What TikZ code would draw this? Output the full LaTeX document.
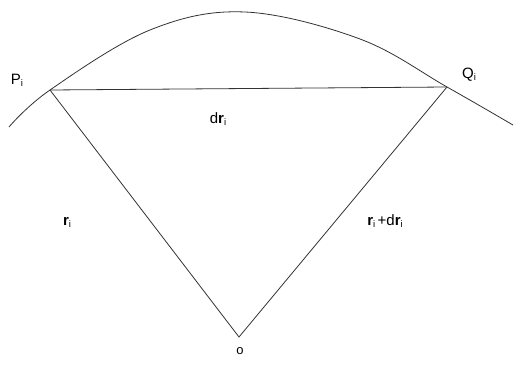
\documentclass[tikz,border=0pt]{standalone}
\usepackage{fontspec}
\setmainfont{Liberation Sans}
\newcommand{\subi}{\raisebox{-0.25ex}{\fontsize{9.5}{9.5}\selectfont i}}
\begin{document}
\begin{tikzpicture}[x=1pt,y=-1pt,
  ln/.style={draw=black!80,line width=0.8pt},
  lbl/.style={font=\fontsize{15}{15}\selectfont,inner sep=0pt}]
\useasboundingbox (0,0) rectangle (515,367);
\fill[white] (0,0) rectangle (515,367);
\coordinate (P) at (50,90);
\coordinate (Q) at (447,87);
\coordinate (O) at (239,337);
\draw[ln] plot[smooth,tension=0.6] coordinates {(9,127) (50,90) (150,30) (245,12) (360,39) (447,87) (513,125)};
\draw[ln] (P) -- (Q);
\draw[ln] (P) -- (O) -- (Q);
\node[lbl] (pl) at (17,80) {P\subi};
\node[lbl] (ql) at (469,75) {Q\subi};
\node[lbl] (drl) at (218,119) {d\textbf{r}\subi};
\node[lbl] (rl) at (67,222) {\textbf{r}\subi};
\node[lbl] (rdl) at (385,221) {\textbf{r}\subi\,+d\textbf{r}\subi};
\node[lbl,font=\fontsize{13}{13}\selectfont] (ol) at (240,351) {o};
\end{tikzpicture}
\end{document}
